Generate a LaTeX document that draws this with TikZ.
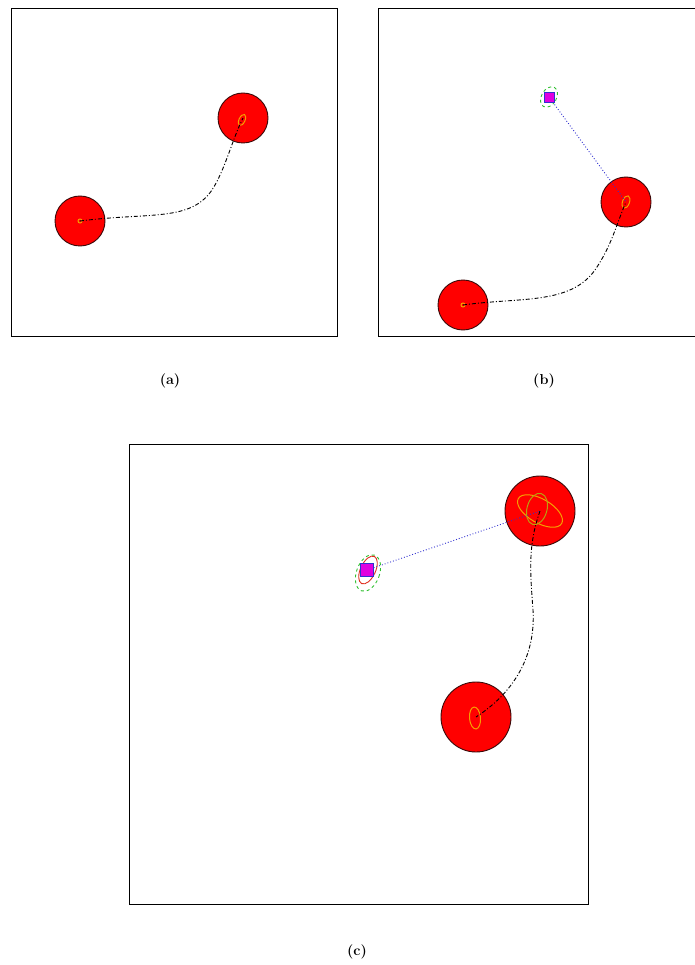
\documentclass[tikz,border=0pt]{standalone}
\usepackage{tikz}
\usetikzlibrary{shapes.geometric,arrows.meta,positioning,calc}
\definecolor{rbred}{HTML}{FF0000}
\definecolor{rbrim}{HTML}{3A0A0A}
\definecolor{rbcov}{HTML}{F5A000}
\definecolor{rbolive}{HTML}{B8A010}
\definecolor{rblmk}{HTML}{E000E0}
\definecolor{rbgreen}{HTML}{30C030}
\definecolor{rbray}{HTML}{3030D0}
\definecolor{rbrederr}{HTML}{E03020}
\tikzset{
  frame/.style   = {draw=black, line width=1pt},
  robot/.style   = {circle, draw=rbrim, fill=rbred, line width=0.9pt, inner sep=0pt},
  cov/.style     = {ellipse, draw=rbcov, line width=1pt, inner sep=0pt},
  covin/.style   = {ellipse, draw=rbolive, line width=1pt, inner sep=0pt},
  lmk/.style     = {rectangle, fill=rblmk, draw=rbray, line width=0.4pt, inner sep=0pt},
  lmkcov/.style  = {ellipse, draw=rbgreen, dashed, line width=0.9pt, inner sep=0pt},
  lmkest/.style  = {ellipse, draw=rbrederr, line width=0.9pt, inner sep=0pt},
  track/.style   = {draw=black, line width=0.9pt, dash pattern=on 4pt off 2pt on 1pt off 2pt},
  ray/.style     = {draw=rbray, dotted, line width=0.9pt},
  sublabel/.style = {font=\Large\bfseries},
}
\begin{document}
\begin{tikzpicture}[x=1pt, y=-1pt]
\useasboundingbox (0,0) rectangle (695,965);
% panel (a)
\draw[frame] (11,9) rectangle (337,336);
\node[robot, minimum size=50pt] (a1) at (80,221) {};
\node[robot, minimum size=50pt] (a2) at (243,118) {};
\node[cov, minimum width=4pt, minimum height=4pt] (a1c) at (a1) {};
\node[cov, minimum width=6pt, minimum height=12pt, rotate=-25] (a2c) at (242,120) {};
\draw[track] (a1.center) .. controls (150,212) and (190,222) .. (212,190)
  .. controls (225,170) and (232,140) .. (a2.center);
\node[sublabel] (capa) at (170,381) {(a)};
% panel (b)
\draw[frame] (378,9) rectangle (710,336);
\node[robot, minimum size=50pt] (b1) at (463,305) {};
\node[robot, minimum size=50pt] (b2) at (626,202) {};
\node[cov, minimum width=4pt, minimum height=4pt] (b1c) at (b1) {};
\node[cov, minimum width=7pt, minimum height=13pt, rotate=-20] (b2c) at (b2) {};
\node[lmkcov, minimum width=15pt, minimum height=22pt, rotate=-30] (b3c) at (549,97) {};
\node[lmk, minimum size=10pt] (b3) at (549,97) {};
\draw[ray] (b3) -- (b2.center);
\draw[track] (b1.center) .. controls (520,297) and (570,305) .. (595,270)
  .. controls (612,245) and (616,225) .. (b2.center);
\node[sublabel] (capb) at (544,381) {(b)};
% panel (c)
\draw[frame] (129,444) rectangle (588,904);
\node[robot, minimum size=70pt] (c1) at (476,717) {};
\node[robot, minimum size=70pt] (c2) at (540,511) {};
\node[cov, minimum width=11pt, minimum height=22pt, rotate=5] (c1c) at (475,718) {};
\node[cov, minimum width=50pt, minimum height=24pt, rotate=-30] (c2c) at (540,511) {};
\node[covin, minimum width=20pt, minimum height=32pt, rotate=-15] (c2i) at (537,509) {};
\node[lmkcov, minimum width=23pt, minimum height=38pt, rotate=-20] (c3c) at (368,573) {};
\node[lmkest, minimum width=15pt, minimum height=30pt, rotate=-25] (c3e) at (368,570) {};
\node[lmk, minimum size=13pt] (c3) at (367,570) {};
\draw[ray] (c3) -- (c2.center);
\draw[track] (c2.center) .. controls (528,545) and (530,570) .. (533,610)
  .. controls (536,660) and (510,695) .. (c1.center);
\node[sublabel] (capc) at (357,952) {(c)};
\end{tikzpicture}
\end{document}
